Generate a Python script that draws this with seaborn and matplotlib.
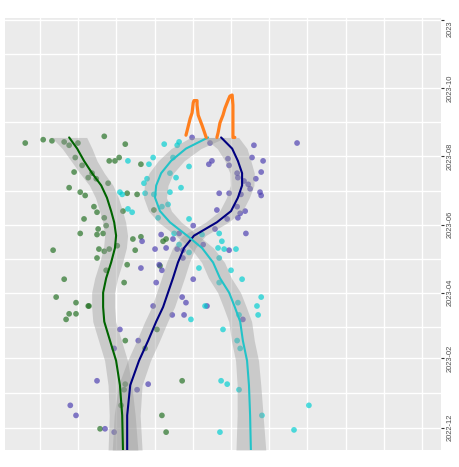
import numpy as np
import pandas as pd
import seaborn as sns
import matplotlib.pyplot as plt
import matplotlib.dates as mdates

# scatter points: value (x) and date (y) per group
green_val = [-3.9, 0.8, 3.1, 6.3, 7.6, 9.9, 16.8, 22.3, 9.2, 18.1, 19.6, 20.7, 26.4, 11.0, 8.9, 12.6,
             13.6, 14.7, 17.8, 7.6, 10.5, 11.8, 22.8, 25.4, 14.1, 14.9, 16.8, 21.7, 11.5, 17.3, 15.2,
             10.5, 14.9, 16.5, 3.4, 15.4, 16.8, 18.1, 20.2, 24.3, 26.4, 24.9, 14.9, 22.8, 17.3, 6.3,
             22.0, 4.2, 9.4, 12.6, 12.8, 7.6, 9.4, 6.8, 22.3, 27.5, 30.6, 22.3, 22.0, 21.2, 15.7,
             37.2, 31.9, 33.0, 32.2, 33.0, 31.4, 29.8]
green_date = ["2023-08-13", "2023-08-16", "2023-08-15", "2023-08-14", "2023-08-11", "2023-08-13",
              "2023-08-19", "2023-08-12", "2023-07-31", "2023-07-28", "2023-07-28", "2023-07-31",
              "2023-07-25", "2023-07-24", "2023-07-18", "2023-07-13", "2023-07-17", "2023-07-12",
              "2023-07-08", "2023-07-04", "2023-06-30", "2023-06-27", "2023-06-29", "2023-06-28",
              "2023-06-17", "2023-06-12", "2023-06-07", "2023-06-13", "2023-06-06", "2023-05-31",
              "2023-05-28", "2023-05-24", "2023-05-23", "2023-05-24", "2023-05-09", "2023-05-10",
              "2023-05-08", "2023-05-10", "2023-05-13", "2023-05-19", "2023-05-21", "2023-05-09",
              "2023-05-02", "2023-04-26", "2023-04-21", "2023-04-13", "2023-04-10", "2023-03-28",
              "2023-03-23", "2023-03-20", "2023-03-20", "2023-03-13", "2023-03-13", "2023-03-08",
              "2023-02-17", "2023-02-10", "2023-02-27", "2023-01-09", "2023-01-04", "2022-12-21",
              "2022-11-30", "2023-01-12", "2022-12-12", "2022-11-27", "2023-05-17", "2023-05-19",
              "2023-04-25", "2023-06-14"]

purple_val = [39.8, 44.5, 67.3, 56.0, 45.0, 44.2, 49.2, 49.5, 55.5, 58.4, 51.6, 51.8, 57.9, 56.5,
              53.4, 54.5, 55.0, 57.6, 57.9, 52.6, 49.5, 46.9, 51.6, 46.3, 53.7, 52.4, 51.8, 49.0,
              40.1, 45.8, 53.9, 31.7, 36.4, 34.8, 26.7, 30.1, 33.0, 35.9, 37.4, 49.5, 42.7, 31.2,
              31.9, 26.4, 37.4, 30.4, 40.1, 37.2, 38.2, 29.6, 43.7, 34.6, 37.7, 53.1, 20.9, 25.7,
              19.4, 14.9, 28.3, 25.4, 7.9, 9.4, 17.0, 19.4]
purple_date = ["2023-08-18", "2023-08-13", "2023-08-13", "2023-08-11", "2023-07-28", "2023-07-25",
               "2023-07-30", "2023-07-24", "2023-07-31", "2023-07-28", "2023-07-17", "2023-07-13",
               "2023-07-18", "2023-07-12", "2023-07-10", "2023-07-07", "2023-07-03", "2023-06-30",
               "2023-06-27", "2023-06-28", "2023-06-29", "2023-06-29", "2023-06-17", "2023-06-14",
               "2023-06-13", "2023-06-11", "2023-06-07", "2023-06-06", "2023-05-31", "2023-05-28",
               "2023-05-24", "2023-05-23", "2023-05-24", "2023-05-19", "2023-05-17", "2023-05-10",
               "2023-05-11", "2023-05-10", "2023-05-09", "2023-05-09", "2023-05-14", "2023-04-26",
               "2023-04-21", "2023-04-23", "2023-05-02", "2023-04-10", "2023-04-13", "2023-03-28",
               "2023-03-23", "2023-03-20", "2023-03-20", "2023-03-12", "2023-03-12", "2023-03-08",
               "2023-02-27", "2023-02-17", "2023-02-10", "2023-01-12", "2023-01-09", "2023-01-04",
               "2022-12-21", "2022-12-12", "2022-11-30", "2022-11-27"]

cyan_val = [32.5, 35.9, 36.4, 29.6, 34.8, 23.0, 28.5, 39.0, 34.0, 35.6, 28.0, 27.2, 36.9, 34.0,
            27.5, 29.8, 20.9, 21.5, 33.5, 31.9, 23.0, 24.1, 30.9, 39.0, 35.1, 46.9, 42.4, 47.6,
            46.6, 48.2, 51.3, 36.4, 39.0, 46.9, 41.6, 50.0, 46.9, 52.9, 57.9, 56.8, 57.1, 51.8,
            52.1, 43.2, 39.5, 47.9, 51.6, 52.4, 47.4, 49.0, 52.1, 70.4, 58.1, 66.5, 47.1]
cyan_date = ["2023-08-12", "2023-08-11", "2023-08-14", "2023-07-31", "2023-07-31", "2023-07-28",
             "2023-07-25", "2023-07-23", "2023-07-17", "2023-07-13", "2023-07-12", "2023-07-08",
             "2023-07-04", "2023-06-30", "2023-06-29", "2023-06-28", "2023-06-30", "2023-06-28",
             "2023-06-19", "2023-06-17", "2023-06-15", "2023-06-12", "2023-06-07", "2023-06-06",
             "2023-05-24", "2023-05-24", "2023-05-23", "2023-05-17", "2023-05-11", "2023-05-10",
             "2023-05-10", "2023-05-14", "2023-05-07", "2023-05-02", "2023-04-23", "2023-04-21",
             "2023-04-10", "2023-04-13", "2023-03-28", "2023-03-20", "2023-03-12", "2023-03-23",
             "2023-03-12", "2023-03-20", "2023-03-08", "2023-02-27", "2023-02-17", "2023-02-10",
             "2023-01-12", "2023-01-09", "2023-01-04", "2022-12-21", "2022-12-12", "2022-11-29",
             "2022-11-27"]

# smoothed trend per group, read at common dates, with ribbon half width
trend_date = ["2023-08-18", "2023-08-08", "2023-07-28", "2023-07-17", "2023-07-06", "2023-06-25",
              "2023-06-13", "2023-06-03", "2023-05-22", "2023-05-11", "2023-04-28", "2023-04-14",
              "2023-04-01", "2023-03-19", "2023-03-06", "2023-02-17", "2023-01-30", "2023-01-08",
              "2022-12-12", "2022-11-11"]
green_fit = [7.6, 9.7, 11.5, 13.6, 16.0, 17.5, 18.6, 19.4, 19.9, 19.6, 18.6, 17.3, 16.5, 16.5,
             16.8, 18.3, 19.9, 20.9, 21.5, 21.7]
purple_fit = [47.4, 50.3, 51.8, 52.9, 52.9, 51.8, 50.0, 46.3, 40.3, 37.7, 36.1, 34.8, 33.5, 32.2,
              30.4, 28.3, 25.9, 23.6, 22.8, 22.8]
cyan_fit = [44.0, 38.2, 34.3, 31.7, 30.4, 30.1, 31.4, 34.0, 38.5, 42.4, 45.3, 47.1, 49.5, 51.0,
            52.4, 53.1, 54.2, 54.7, 55.0, 55.2]
band = [4.6, 3.9, 3.4, 3.2, 3.1, 3.0, 3.0, 3.0, 3.0, 3.0, 3.0, 3.0, 3.0, 3.0, 3.0, 3.0, 3.0, 3.1,
        3.4, 3.9]

# the two orange strokes on top
ear_stroke = [1] * 11 + [2] * 11
ear_val = [38.2, 38.5, 39.3, 39.8, 40.1, 40.3, 41.1, 41.1, 41.4, 42.4, 43.5,
           46.3, 46.6, 47.1, 47.9, 48.4, 49.2, 49.7, 50.3, 50.5, 50.5, 51.0]
ear_date = ["2023-08-20", "2023-08-24", "2023-09-04", "2023-09-09", "2023-09-18", "2023-09-20",
            "2023-09-20", "2023-09-16", "2023-09-07", "2023-08-29", "2023-08-18",
            "2023-08-18", "2023-08-22", "2023-08-31", "2023-09-07", "2023-09-13", "2023-09-20",
            "2023-09-24", "2023-09-25", "2023-09-16", "2023-08-18", "2023-08-18"]

tick_dates = ["2022-12-01", "2023-02-01", "2023-04-01", "2023-06-01", "2023-08-01", "2023-10-01",
              "2023-12-01"]
tick_labels = ["2022-12", "2023-02", "2023-04", "2023-06", "2023-08", "2023-10", "2023"]
minor_dates = ["2023-01-01", "2023-03-01", "2023-05-01", "2023-07-01", "2023-09-01", "2023-11-01"]

pt_colors = {"green": "#237023", "purple": "#4b3db0", "cyan": "#00ced1"}
fit_colors = {"green": "#006400", "purple": "#000080", "cyan": "#22c3c8"}

sns.set_theme(style="darkgrid", rc={"axes.facecolor": "#ebebeb", "grid.color": "white",
                                     "grid.linewidth": 1.0})
plt.rcParams["font.family"] = ["Liberation Sans", "DejaVu Sans"]

points = pd.concat([
    pd.DataFrame({"value": green_val, "date": pd.to_datetime(green_date), "group": "green"}),
    pd.DataFrame({"value": purple_val, "date": pd.to_datetime(purple_date), "group": "purple"}),
    pd.DataFrame({"value": cyan_val, "date": pd.to_datetime(cyan_date), "group": "cyan"}),
], ignore_index=True)

fits = pd.concat([
    pd.DataFrame({"value": v, "date": pd.to_datetime(trend_date), "band": band, "group": g})
    for g, v in [("green", green_fit), ("purple", purple_fit), ("cyan", cyan_fit)]
], ignore_index=True)

ears = pd.DataFrame({"value": ear_val, "date": pd.to_datetime(ear_date), "stroke": ear_stroke})

fig = plt.figure(figsize=(4.6, 4.67), dpi=100)
ax = fig.add_axes([5 / 460, 17 / 467, 436 / 460, 432 / 467])

sns.scatterplot(data=points, x="value", y="date", hue="group", palette=pt_colors, s=17,
                alpha=0.68, linewidth=0, legend=False, ax=ax, zorder=2)

for g, d in fits.groupby("group"):
    ax.fill_betweenx(d["date"], d["value"] - d["band"], d["value"] + d["band"],
                     color="#999999", alpha=0.4, linewidth=0, zorder=3)

sns.lineplot(data=fits, x="value", y="date", hue="group", palette=fit_colors, orient="y",
             linewidth=1.5, legend=False, ax=ax, zorder=4)

sns.lineplot(data=ears, x="value", y="date", units="stroke", estimator=None, sort=False,
             color="#ff7f1e", linewidth=2.3, ax=ax, zorder=5)

ax.set_xlim(-9.2, 105.0)
ax.set_ylim(pd.Timestamp("2022-11-11"), pd.Timestamp("2023-12-03"))
ax.set_xticks(np.arange(0, 101, 10))
ax.tick_params(axis="x", length=0, labelbottom=False)
ax.set_yticks(pd.to_datetime(tick_dates))
ax.set_yticks(pd.to_datetime(minor_dates), minor=True)
ax.set_yticklabels(tick_labels)
ax.yaxis.tick_right()
ax.tick_params(axis="y", which="major", length=2.5, width=0.8, color="#333333", pad=1.5,
               labelsize=5.4, labelcolor="#4d4d4d", right=True, left=False)
ax.tick_params(axis="y", which="minor", length=0)
ax.grid(True, which="both", color="white", linewidth=1.0)
for lab in ax.get_yticklabels():
    lab.set_rotation(90)
    lab.set_va("center")
ax.get_yticklabels()[-1].set_va("top")
ax.set_xlabel("")
ax.set_ylabel("")
for s in ax.spines.values():
    s.set_visible(False)

fig.savefig("out.png", dpi=100, facecolor="white")
